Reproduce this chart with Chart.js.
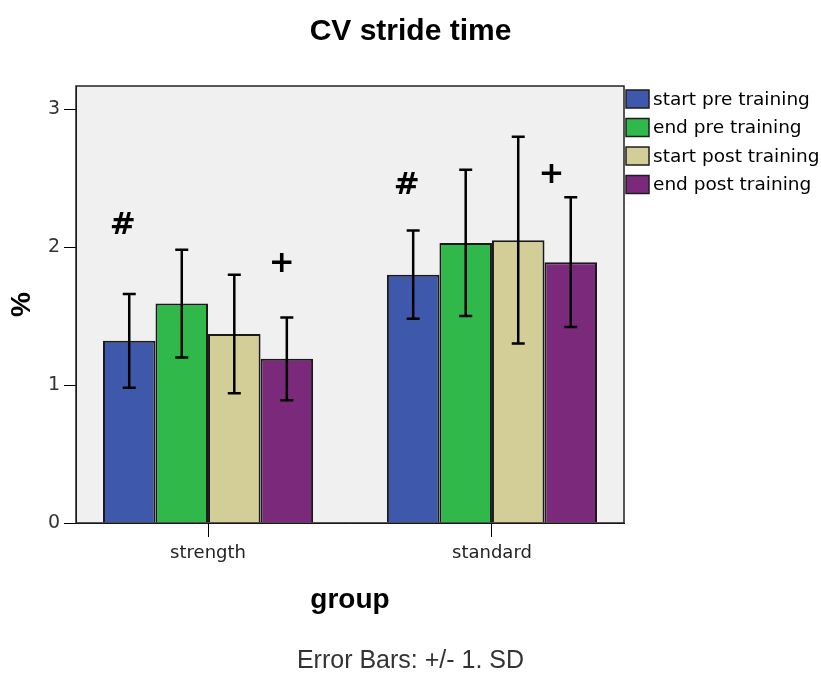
<!doctype html>
<html>
<head>
  <meta charset="utf-8">
  <title>CV stride time</title>
  <style>
    html, body { margin: 0; padding: 0; background: #fff; }
    #wrap { width: 821px; height: 674px; }
  </style>
</head>
<body>
  <div id="wrap"><canvas id="chart" width="821" height="674"></canvas></div>

  <script src="https://cdn.jsdelivr.net/npm/chart.js@4"></script>
  <script>
    // data
    const groups = ['strength', 'standard'];
    const seriesNames = ['start pre training', 'end pre training', 'start post training', 'end post training'];
    const startPre = [1.32, 1.80];
    const endPre = [1.59, 2.03];
    const startPost = [1.37, 2.05];
    const endPost = [1.19, 1.89];
    // +/- 1 SD
    const sdStartPre = [0.34, 0.32];
    const sdEndPre = [0.39, 0.53];
    const sdStartPost = [0.43, 0.75];
    const sdEndPost = [0.30, 0.47];
    const yTicks = [0, 1, 2, 3];
    // significance marks: text, x in group units (1 = strength, 2 = standard), y in %
    const marks = [
      { text: '#', x: 0.70, y: 2.15 },
      { text: '+', x: 1.26, y: 1.88 },
      { text: '#', x: 1.70, y: 2.44 },
      { text: '+', x: 2.21, y: 2.52 }
    ];

    const colors = ['#3e58ac', '#31b84b', '#d3ce98', '#7b2a7b'];
    const means = [startPre, endPre, startPost, endPost];
    const sds = [sdStartPre, sdEndPre, sdStartPost, sdEndPost];

    const datasets = seriesNames.map((name, s) => ({
      label: name,
      data: groups.map((g, i) => ({ x: i + 1, y: means[s][i] })),
      sd: sds[s],
      backgroundColor: colors[s],
      borderColor: '#1a1a1a',
      borderWidth: 2,
      barPercentage: 1,
      categoryPercentage: 0.74
    }));

    // plot background and frame
    const framePlugin = {
      id: 'frame',
      beforeDraw(chart) {
        const { ctx, chartArea: a } = chart;
        ctx.save();
        ctx.fillStyle = '#f0f0f0';
        ctx.fillRect(a.left, a.top, a.right - a.left, a.bottom - a.top);
        ctx.restore();
      },
      afterDraw(chart) {
        const { ctx, chartArea: a } = chart;
        ctx.save();
        ctx.strokeStyle = '#222';
        ctx.lineWidth = 1.5;
        ctx.strokeRect(a.left, a.top, a.right - a.left, a.bottom - a.top);
        ctx.restore();
      }
    };

    // error bars (+/- 1 SD) drawn through the y scale
    const errorBars = {
      id: 'errorBars',
      afterDatasetsDraw(chart) {
        const ctx = chart.ctx;
        const y = chart.scales.y;
        ctx.save();
        ctx.strokeStyle = '#000';
        ctx.lineWidth = 2.5;
        chart.data.datasets.forEach((ds, s) => {
          const meta = chart.getDatasetMeta(s);
          meta.data.forEach((bar, i) => {
            const m = ds.data[i].y, sd = ds.sd[i];
            const top = y.getPixelForValue(m + sd);
            const bot = y.getPixelForValue(m - sd);
            ctx.beginPath();
            ctx.moveTo(bar.x, top); ctx.lineTo(bar.x, bot);
            ctx.moveTo(bar.x - 6.5, top); ctx.lineTo(bar.x + 6.5, top);
            ctx.moveTo(bar.x - 6.5, bot); ctx.lineTo(bar.x + 6.5, bot);
            ctx.stroke();
          });
        });
        ctx.restore();
      }
    };

    // # and + annotations
    const markPlugin = {
      id: 'marks',
      afterDraw(chart) {
        const { ctx, scales } = chart;
        ctx.save();
        ctx.fillStyle = '#000';
        ctx.font = 'bold 31px "DejaVu Sans"';
        ctx.textAlign = 'center';
        ctx.textBaseline = 'middle';
        marks.forEach(m => {
          ctx.fillText(m.text, scales.x.getPixelForValue(m.x), scales.y.getPixelForValue(m.y));
        });
        ctx.restore();
      }
    };

    // legend to the right of the plot, in the space held by the spacer axis
    const legendPlugin = {
      id: 'sideLegend',
      afterDraw(chart) {
        const { ctx, chartArea: a } = chart;
        ctx.save();
        ctx.font = '18.5px "DejaVu Sans"';
        ctx.textBaseline = 'middle';
        ctx.textAlign = 'left';
        chart.data.datasets.forEach((ds, s) => {
          const cy = a.top + 13 + s * 28.5;
          const bx = a.right + 2;
          ctx.fillStyle = ds.backgroundColor;
          ctx.fillRect(bx, cy - 9, 23, 18);
          ctx.strokeStyle = '#1e1e1e';
          ctx.lineWidth = 1.5;
          ctx.strokeRect(bx, cy - 9, 23, 18);
          ctx.fillStyle = '#000';
          ctx.fillText(ds.label, bx + 27, cy + 1);
        });
        ctx.restore();
      }
    };

    new Chart(document.getElementById('chart'), {
      type: 'bar',
      data: { datasets: datasets },
      plugins: [framePlugin, errorBars, markPlugin, legendPlugin],
      options: {
        responsive: false,
        animation: false,
        layout: { padding: 0 },
        plugins: {
          legend: { display: false },
          tooltip: { enabled: false },
          title: {
            display: true,
            text: 'CV stride time',
            color: '#000',
            font: { family: 'Liberation Sans', size: 30, weight: 'bold', lineHeight: 1.2 },
            padding: { top: 14, bottom: 36 }
          },
          subtitle: {
            display: true,
            position: 'bottom',
            text: 'Error Bars: +/- 1. SD',
            color: '#333',
            font: { family: 'Liberation Sans', size: 25, lineHeight: 1 },
            padding: { top: 29, bottom: 0 }
          }
        },
        scales: {
          x: {
            type: 'linear',
            min: 0.535,
            max: 2.465,
            offset: false,
            afterFit(scale) { scale.height = 97; },
            afterBuildTicks(scale) { scale.ticks = groups.map((g, i) => ({ value: i + 1 })); },
            grid: { display: true, drawOnChartArea: false, drawTicks: true, tickLength: 14, color: '#000', offset: false },
            border: { display: true, color: '#000', width: 1 },
            ticks: {
              autoSkip: false,
              maxRotation: 0,
              padding: 6,
              color: '#222',
              font: { family: 'DejaVu Sans', size: 18 },
              callback: (v) => groups[v - 1]
            },
            title: {
              display: true,
              text: 'group',
              color: '#000',
              font: { family: 'Liberation Sans', size: 28, weight: 'bold', lineHeight: 1.2 },
              padding: { top: 0, bottom: 3 }
            }
          },
          y: {
            min: 0,
            max: 3.167,
            afterFit(scale) { scale.width = 76; },
            afterBuildTicks(scale) { scale.ticks = yTicks.map(v => ({ value: v })); },
            grid: { display: true, drawOnChartArea: false, drawTicks: true, tickLength: 12, color: '#000' },
            border: { display: true, color: '#000', width: 1 },
            ticks: {
              padding: 4,
              color: '#333',
              font: { family: 'DejaVu Sans', size: 19 }
            },
            title: {
              display: true,
              text: '%',
              color: '#000',
              font: { family: 'Liberation Sans', size: 28, weight: 'bold', lineHeight: 1.2 },
              padding: { top: 5, bottom: 0 }
            }
          },
          spacer: {
            type: 'linear',
            position: 'right',
            display: true,
            afterFit(scale) { scale.width = 197; },
            grid: { display: false },
            border: { display: false },
            ticks: { display: false }
          }
        }
      }
    });
  </script>
</body>
</html>
